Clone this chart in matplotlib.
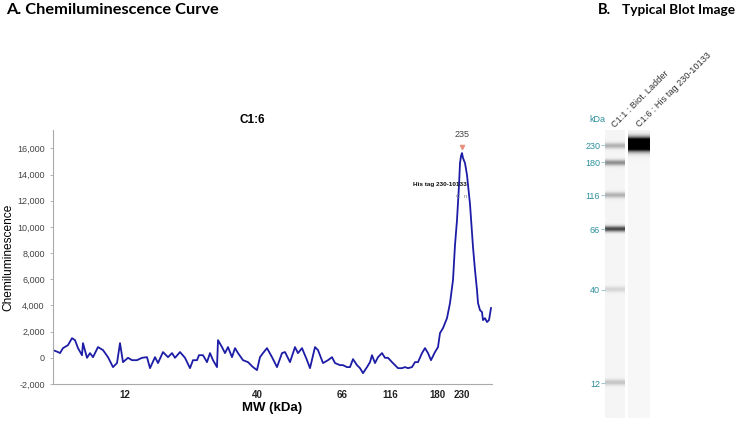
import matplotlib
matplotlib.use("Agg")
import matplotlib.pyplot as plt
import numpy as np
from matplotlib.ticker import FuncFormatter

# curve: migration position (px units along the MW axis) and signal
position = [0, 5, 7, 10, 15, 19, 22, 25, 29, 30, 34, 37, 40, 45, 50, 55, 60, 64, 67, 70,
            75, 79, 84, 89, 94, 97, 102, 105, 110, 115, 119, 122, 127, 132, 137, 140, 144, 146, 150, 154,
            157, 160, 164, 165, 169, 172, 175, 179, 182, 185, 190, 195, 200, 204, 207, 210, 214, 219, 224, 229,
            232, 237, 242, 245, 249, 254, 257, 262, 265, 270, 275, 279, 282, 287, 290, 294, 297, 300, 304, 307,
            310, 314, 317, 319, 322, 325, 329, 332, 335, 339, 342, 345, 349, 352, 355, 359, 362, 365, 369, 372,
            375, 378, 382, 385, 387, 390, 394, 397, 400, 402, 404, 406, 407, 408, 409, 410, 412, 414, 417, 420,
            422, 424, 425, 427, 429, 430, 432, 434, 436, 438]
signal = [590, 440, 360, 740, 970, 1500, 1350, 740, 200, 1120, 0, 360, 50, 820, 590, 50, -710, -400, 1120, -330,
          0, -180, -180, 0, 50, -790, 50, -400, 440, 50, 360, 0, 440, 0, -790, -180, -180, 200, 200, -330,
          360, -180, -710, 1350, 820, 360, 820, 50, 740, 360, -180, -330, -710, -940, 50, 360, 740, 50, -710, 360,
          440, -330, 820, 360, 740, -180, -790, 820, 590, -400, -180, 50, -400, -560, -560, -710, -710, -100, -560, -790,
          -1170, -710, -330, 200, -400, 50, 360, 0, 0, -330, -560, -790, -790, -710, -790, -710, -330, -330, 360, 740,
          360, -180, 440, 820, 1890, 2270, 3030, 4180, 5940, 8610, 10520, 13190, 14870, 15410, 15640, 15260, 14870, 13960, 11740, 8460,
          6700, 5170, 4180, 3640, 3490, 2880, 3030, 2730, 2880, 3800]

mw_labels = ["12", "40", "66", "116", "180", "230"]
mw_positions = [72, 204, 289, 337, 384, 409]
y_ticks = [-2000, 0, 2000, 4000, 6000, 8000, 10000, 12000, 14000, 16000]

peak_label = "235"
peak_name = "His tag 230-10133"

# blot: band centres (px from top of figure) and relative intensity
ladder_kda = ["230", "180", "116", "66", "40", "12"]
ladder_rows = [145.5, 162.5, 195, 229, 289.5, 383]
ladder_level = [0.28, 0.42, 0.28, 0.72, 0.13, 0.2]
sample_rows = [144]
sample_level = [1.0]
lane_names = ["C1:1 : Biot. Ladder", "C1:6 : His tag 230-10133"]

W, H = 736, 423
fig = plt.figure(figsize=(W / 100, H / 100), dpi=100)
plt.rcParams['font.family'] = ['Liberation Sans', 'DejaVu Sans']


def box(x0, y0, x1, y1):
    return [x0 / W, 1 - y1 / H, (x1 - x0) / W, (y1 - y0) / H]


# ---- panel A
ax = fig.add_axes(box(53, 130, 492, 384))
ax.plot(position, signal, color='#1c1ca6', lw=1.3)
ax.set_xlim(0, 439)
ax.set_ylim(-2000, 17400)
ax.set_yticks(y_ticks)
ax.yaxis.set_major_formatter(FuncFormatter(lambda v, p: f"{int(v):,}"))
ax.set_xticks(mw_positions)
ax.set_xticklabels(mw_labels, fontweight='bold')
ax.tick_params(axis='y', labelsize=6.5, labelcolor='#444444', color='#aaaaaa', length=2.5, width=0.6)
ax.tick_params(axis='x', labelsize=7, labelcolor='#222222', length=0, pad=4)
for s in ['top', 'right']:
    ax.spines[s].set_visible(False)
for s in ['left', 'bottom']:
    ax.spines[s].set_color('#aaaaaa')
    ax.spines[s].set_linewidth(0.8)
ax.set_xlabel("MW (kDa)", fontsize=9.5, fontweight='bold', labelpad=2)
ax.set_ylabel("Chemiluminescence", fontsize=8.6, labelpad=2)

ipk = int(np.argmax(signal))
xp, yp = position[ipk], signal[ipk]
ax.plot([xp], [yp + 450], marker='v', color='#e8907e', ms=3, ls='none')
ax.annotate(peak_label, (xp, yp), xytext=(0, 10), textcoords='offset points',
            ha='center', va='bottom', fontsize=6.5, color='#444444')
ax.annotate(peak_name, (xp, yp), xytext=(-16, -23), textcoords='offset points',
            ha='center', va='center', fontsize=4.6, fontweight='bold', color='#111111')
ax.annotate("C  n", (xp, yp), xytext=(0, -31), textcoords='offset points',
            ha='center', va='center', fontsize=4.5, color='#888888')

fig.text(252 / W, 1 - 120 / H, "C1:6", ha='center', va='center', fontsize=8.5, fontweight='bold')
fig.text(6 / W, 1 - 10 / H, "A. Chemiluminescence Curve", ha='left', va='center',
         fontsize=11.8, fontweight='bold', family='Lato')
fig.text(598 / W, 1 - 10 / H, "B.", ha='left', va='center',
         fontsize=10.5, fontweight='bold', family='Lato')
fig.text(622 / W, 1 - 10 / H, "Typical Blot Image", ha='left', va='center',
         fontsize=9.8, fontweight='bold', family='Lato')

# ---- panel B
top, bot = 130, 418
bx = fig.add_axes(box(605, top, 652, bot))
rows = np.arange(top, bot + 1, 0.5)


def lane_profile(centres, levels, sigma, flat=1.0):
    prof = np.zeros_like(rows)
    for c, lv in zip(centres, levels):
        prof += lv * flat * np.exp(-0.5 * ((rows - c) / sigma) ** 2)
    return np.clip(prof, 0, 1)


lad = 0.04 + 0.96 * lane_profile(ladder_rows, ladder_level, 2.0)
smp = 0.035 + 0.965 * lane_profile(sample_rows, sample_level, 4.2, flat=2.2)
bx.imshow(lad[:, None], cmap='gray_r', vmin=0, vmax=1, aspect='auto',
          extent=(0, 20, bot, top), interpolation='bilinear')
bx.imshow(smp[:, None], cmap='gray_r', vmin=0, vmax=1, aspect='auto',
          extent=(23, 45, bot, top), interpolation='bilinear')
bx.set_xlim(0, 47)
bx.set_ylim(bot, top)
for s in bx.spines.values():
    s.set_visible(False)
bx.set_xticks([])
bx.set_yticks(ladder_rows)
bx.set_yticklabels(ladder_kda)
bx.tick_params(axis='y', labelsize=6.5, labelcolor='#2e8f9c', color='#9cc7cc',
               length=3, width=0.7, pad=0.5)
fig.text(597 / W, 1 - 119 / H, "kDa", ha='center', va='center', fontsize=6.5, color='#2e8f9c')

for lx, name in zip([616, 641], lane_names):
    fig.text(lx / W, 1 - 129 / H, name, rotation=45, rotation_mode='anchor',
             ha='left', va='bottom', fontsize=6.6, color='#333333')

fig.savefig("out.png", dpi=100)
